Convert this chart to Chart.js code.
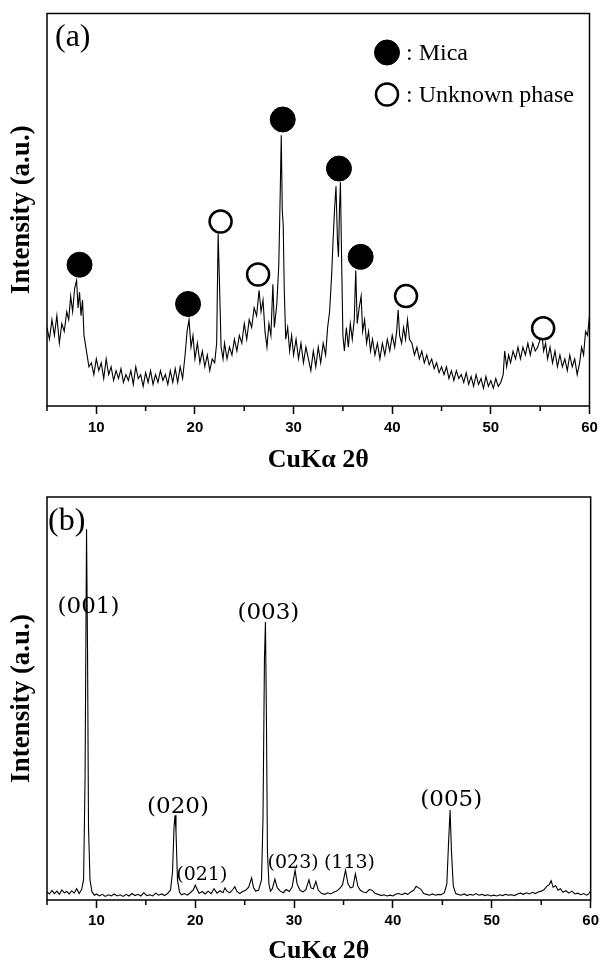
<!DOCTYPE html>
<html>
<head>
<meta charset="utf-8">
<script src="https://cdn.jsdelivr.net/npm/chart.js@4.4.0/dist/chart.umd.min.js"></script>
<style>
  html, body { margin: 0; padding: 0; background: #fff; }
  #wrapA { position: absolute; left: 0; top: 0; width: 603px; height: 480px; }
  #wrapB { position: absolute; left: 0; top: 480px; width: 603px; height: 487px; }
</style>
</head>
<body>
<div id="wrapA"><canvas id="xrdA" width="603" height="480"></canvas></div>
<div id="wrapB"><canvas id="xrdB" width="603" height="487"></canvas></div>
<script>
// (a) pattern
const twoThetaA = [
  5.0, 5.25, 5.5, 5.75, 6.0, 6.25, 6.5, 6.75, 7.0, 7.2, 7.4, 7.6, 7.8, 8.0, 8.15, 8.3, 8.45, 8.6, 8.75, 9.0,
  9.25, 9.5, 9.75, 10.0, 10.25, 10.5, 10.75, 11.0, 11.25, 11.5, 11.75, 12.0, 12.25, 12.5, 12.75, 13.0, 13.25, 13.5, 13.75, 14.0,
  14.25, 14.5, 14.75, 15.0, 15.25, 15.5, 15.75, 16.0, 16.25, 16.5, 16.75, 17.0, 17.25, 17.5, 17.75, 18.0, 18.25, 18.5, 18.75, 19.0,
  19.2, 19.4, 19.6, 19.8, 20.0, 20.25, 20.5, 20.75, 21.0, 21.25, 21.5, 21.75, 22.0, 22.2, 22.35, 22.5, 22.65, 22.85, 23.0, 23.25,
  23.5, 23.75, 24.0, 24.25, 24.5, 24.75, 25.0, 25.25, 25.5, 25.75, 26.0, 26.25, 26.5, 26.7, 26.9, 27.1, 27.3, 27.5, 27.7, 27.9,
  28.05, 28.3, 28.5, 28.65, 28.75, 28.85, 28.95, 29.05, 29.2, 29.4, 29.6, 29.8, 30.0, 30.25, 30.5, 30.75, 31.0, 31.25, 31.5, 31.75,
  32.0, 32.25, 32.5, 32.75, 33.0, 33.25, 33.45, 33.65, 33.85, 34.0, 34.15, 34.3, 34.45, 34.55, 34.65, 34.75, 34.85, 35.0, 35.15, 35.35,
  35.55, 35.75, 35.95, 36.15, 36.3, 36.45, 36.65, 36.85, 37.0, 37.2, 37.4, 37.6, 37.8, 38.0, 38.25, 38.5, 38.75, 39.0, 39.25, 39.5,
  39.75, 40.0, 40.25, 40.45, 40.6, 40.75, 40.95, 41.15, 41.35, 41.55, 41.75, 42.0, 42.25, 42.5, 42.75, 43.0, 43.25, 43.5, 43.75, 44.0,
  44.25, 44.5, 44.75, 45.0, 45.25, 45.5, 45.75, 46.0, 46.25, 46.5, 46.75, 47.0, 47.25, 47.5, 47.75, 48.0, 48.25, 48.5, 48.75, 49.0,
  49.25, 49.5, 49.75, 50.0, 50.25, 50.5, 50.75, 51.0, 51.25, 51.4, 51.6, 51.8, 52.0, 52.25, 52.5, 52.75, 53.0, 53.25, 53.5, 53.75,
  54.0, 54.25, 54.5, 54.75, 55.0, 55.2, 55.35, 55.55, 55.75, 56.0, 56.25, 56.5, 56.75, 57.0, 57.25, 57.5, 57.75, 58.0, 58.25, 58.5,
  58.75, 59.0, 59.2, 59.4, 59.6, 59.8, 60.0
];
const intensityA = [
  20, 17, 22, 18, 23, 16, 21, 19, 24, 22, 28, 24, 30, 32, 25, 29, 23, 27, 18, 14,
  10, 11, 8, 12, 9, 11, 7, 12, 8, 10, 6.5, 9, 7, 9.5, 6, 8, 6.5, 9, 5.5, 10,
  7, 8, 5, 8.5, 6, 9, 5.5, 8, 6, 9, 6.5, 8, 5.5, 9, 6, 9.5, 6, 10, 7, 13,
  19, 22, 15, 18, 12, 16, 11, 14, 10, 13, 9, 12, 11, 16, 44, 30, 15, 12, 16, 12,
  15, 13, 17, 14, 18, 16, 21, 17, 22, 20, 25, 23, 29.5, 24, 27, 19, 15, 21, 18, 31,
  20, 26, 36, 55, 69, 50, 46, 30, 17, 20, 14, 18, 13, 17, 12, 16, 11, 15, 12, 9,
  14, 10, 15, 11, 16, 13, 20, 24, 33, 42, 50, 56, 42, 38, 50, 57, 40, 18, 14, 20,
  15, 21, 17, 22, 34.5, 21, 25, 28, 19, 22, 16, 19, 14, 17, 13, 16, 12, 16, 13, 17,
  14, 18, 15, 19, 24.5, 18, 16, 20, 17, 22, 17, 16, 13, 15, 12, 14, 11, 13, 10.5, 12,
  9.5, 11, 8.5, 10, 8, 10, 7, 9, 6.5, 9, 7, 8, 6, 8.5, 5.5, 7.5, 5, 8, 5.5, 7,
  4.5, 7.5, 5, 6.5, 4.5, 7, 5, 6, 8, 14, 10, 13, 11, 14, 12, 15, 12, 15, 13, 16,
  13, 16, 14, 15, 17, 17.5, 14, 16, 12, 15, 11, 14, 10, 13, 10, 12, 9, 13, 10, 12,
  8, 11, 15, 13, 19, 18, 23
];
const micaTheta = [8.3, 19.3, 28.9, 34.6, 36.8];
const micaIntensity = [36, 26, 73, 60.5, 38];
const unknownTheta = [22.6, 26.4, 41.4, 55.3];
const unknownIntensity = [47, 33.5, 28, 19.8];

// (b) pattern
const twoThetaB = [
  5.0, 5.25, 5.5, 5.75, 6.0, 6.25, 6.5, 6.75, 7.0, 7.25, 7.5, 7.75, 8.0, 8.25, 8.5, 8.7, 8.85, 9.0, 9.1, 9.2,
  9.35, 9.55, 9.8, 10.0, 10.3, 10.6, 10.9, 11.2, 11.5, 11.8, 12.1, 12.4, 12.7, 13.0, 13.3, 13.6, 13.9, 14.2, 14.5, 14.8,
  15.1, 15.4, 15.7, 16.0, 16.3, 16.6, 16.9, 17.2, 17.5, 17.7, 17.85, 17.95, 18.05, 18.2, 18.4, 18.6, 18.9, 19.2, 19.5, 19.8,
  20.0, 20.2, 20.4, 20.7, 21.0, 21.3, 21.6, 21.9, 22.2, 22.5, 22.8, 23.0, 23.2, 23.5, 23.8, 24.0, 24.2, 24.5, 24.8, 25.1,
  25.4, 25.7, 25.9, 26.1, 26.4, 26.7, 26.85, 27.0, 27.1, 27.2, 27.3, 27.45, 27.6, 27.8, 28.05, 28.3, 28.6, 28.9, 29.2, 29.5,
  29.8, 30.1, 30.3, 30.6, 30.9, 31.2, 31.5, 31.7, 31.95, 32.2, 32.45, 32.8, 33.1, 33.4, 33.7, 34.0, 34.3, 34.6, 34.9, 35.2,
  35.45, 35.7, 35.95, 36.2, 36.45, 36.7, 37.0, 37.3, 37.6, 37.9, 38.2, 38.5, 38.8, 39.1, 39.4, 39.7, 40.0, 40.3, 40.6, 40.9,
  41.2, 41.5, 41.8, 42.1, 42.35, 42.6, 42.85, 43.1, 43.4, 43.7, 44.0, 44.3, 44.6, 44.9, 45.2, 45.45, 45.62, 45.78, 45.92, 46.1,
  46.35, 46.6, 46.9, 47.2, 47.5, 47.8, 48.1, 48.4, 48.7, 49.0, 49.3, 49.6, 49.9, 50.2, 50.5, 50.8, 51.1, 51.4, 51.7, 52.0,
  52.3, 52.6, 52.9, 53.2, 53.5, 53.8, 54.1, 54.4, 54.7, 55.0, 55.3, 55.55, 55.8, 56.0, 56.2, 56.45, 56.7, 56.95, 57.2, 57.5,
  57.8, 58.1, 58.4, 58.7, 59.0, 59.3, 59.6, 59.8, 60.0
];
const intensityB = [
  2, 1.5, 2.4, 1.6, 2.2, 1.4, 2.5, 1.8, 2.1, 1.5, 2.3, 1.7, 2.8, 1.6, 2.6, 5, 30, 92, 62, 18,
  5, 2, 1.2, 1.5, 1, 1.4, 0.9, 1.3, 1, 1.5, 1, 1.3, 0.9, 1.4, 1, 1.6, 1.1, 1.4, 1, 1.8,
  1.1, 1.3, 1, 1.7, 1.2, 1.5, 1.1, 1.6, 2.5, 7, 18, 21, 17, 5, 2, 1.3, 1.6, 1.2, 1.8, 2.5,
  3.7, 2.6, 1.6, 2.1, 1.5, 2.2, 1.6, 2.8, 1.7, 2.3, 1.8, 3, 2.2, 1.8, 2.6, 3.3, 2.2, 1.6, 2.1, 2.4,
  3.2, 5.5, 3, 2.2, 2.4, 5, 20, 60, 69, 45, 12, 4, 2.2, 2.8, 5.2, 3, 2.2, 1.8, 2.6, 2.1,
  3.2, 7.4, 4, 2.4, 2, 2.6, 5, 3, 2.8, 4.6, 2.4, 1.6, 1.4, 1.8, 1.5, 1.9, 2.2, 2.8, 3.8, 7.4,
  4, 3, 3.2, 6.5, 3.4, 2.4, 2, 1.8, 2.6, 2.4, 1.6, 1.4, 1.1, 1.3, 1, 1.2, 1, 1.5, 1.6, 1.3,
  1.7, 1.4, 2, 2.4, 3.4, 3, 2.6, 1.6, 1.4, 1.2, 1.5, 1.2, 1.4, 1.3, 1.8, 4, 14, 22.3, 12, 3.5,
  1.6, 1.4, 1.2, 1.5, 1.1, 1.4, 1.2, 1.6, 1.2, 1.4, 1.1, 1.3, 1, 1.2, 1, 1.3, 1.1, 1.4, 1.2, 1.3,
  1.1, 1.5, 1.7, 1.4, 1.8, 1.5, 1.9, 1.6, 2, 2.2, 2.6, 3.4, 3.8, 4.8, 3.2, 3.6, 2.4, 2.8, 1.9, 2.3,
  1.7, 2.2, 1.5, 1.7, 1.3, 1.6, 1.2, 1.5, 2.3
];
const hklLabels = ['(001)', '(020)', '(021)', '(003)', '(023)', '(113)', '(005)'];
const hklTheta = [9.2, 18.25, 20.66, 27.4, 29.9, 35.6, 45.9];
const hklIntensity = [72.7, 23.1, 6.2, 71.2, 9.2, 9.2, 24.8];
const minorHkl = ['(021)', '(023)', '(113)'];

const serif = "'Liberation Serif', 'Times New Roman', serif";

function pts(xs, ys) {
    return xs.map((x, i) => ({ x: x, y: ys[i] }));
}

// box round the plot area
const framePlugin = {
    id: 'frame',
    afterDatasetsDraw(chart) {
        const a = chart.chartArea;
        const ctx = chart.ctx;
        ctx.save();
        ctx.strokeStyle = '#000';
        ctx.lineWidth = 1.5;
        ctx.strokeRect(a.left, a.top, a.right - a.left, a.bottom - a.top);
        ctx.restore();
    }
};

// short ticks at 5, 15, 25 ...
const minorTickPlugin = {
    id: 'minorTicks',
    afterDraw(chart) {
        const xs = chart.scales.x;
        const ctx = chart.ctx;
        ctx.save();
        ctx.strokeStyle = '#000';
        ctx.lineWidth = 1.5;
        xs.ticks.forEach(t => {
            if (t.value % 10 !== 0) {
                const px = xs.getPixelForValue(t.value);
                ctx.beginPath();
                ctx.moveTo(px, xs.top);
                ctx.lineTo(px, xs.top + 5);
                ctx.stroke();
            }
        });
        ctx.restore();
    }
};

const panelTagPlugin = {
    id: 'panelTag',
    afterDraw(chart, args, opts) {
        if (!opts.text) return;
        const a = chart.chartArea;
        const ctx = chart.ctx;
        ctx.save();
        ctx.fillStyle = '#000';
        ctx.font = '32px ' + serif;
        ctx.textAlign = 'left';
        ctx.textBaseline = 'middle';
        ctx.fillText(opts.text, a.left + opts.dx, a.top + opts.dy);
        ctx.restore();
    }
};

// key for the two marker sets, drawn inside the plot
const phaseKeyPlugin = {
    id: 'phaseKey',
    afterDraw(chart, args, opts) {
        if (!opts.rows) return;
        const a = chart.chartArea;
        const ctx = chart.ctx;
        ctx.save();
        opts.rows.forEach((dy, i) => {
            const ds = chart.data.datasets[i];
            const cx = a.left + opts.dx;
            const cy = a.top + dy;
            ctx.beginPath();
            ctx.arc(cx, cy, ds.pointRadius, 0, Math.PI * 2);
            ctx.fillStyle = ds.backgroundColor;
            ctx.fill();
            ctx.lineWidth = ds.borderWidth;
            ctx.strokeStyle = ds.borderColor;
            ctx.stroke();
            ctx.fillStyle = '#000';
            ctx.font = '24px ' + serif;
            ctx.textAlign = 'left';
            ctx.textBaseline = 'middle';
            ctx.fillText(ds.label, cx + 19, cy + 1);
        });
        ctx.restore();
    }
};

const hklPlugin = {
    id: 'hkl',
    afterDraw(chart, args, opts) {
        if (!opts.show) return;
        const xs = chart.scales.x, ys = chart.scales.y;
        const ctx = chart.ctx;
        ctx.save();
        ctx.fillStyle = '#000';
        ctx.textAlign = 'center';
        ctx.textBaseline = 'middle';
        hklLabels.forEach((t, i) => {
            ctx.font = (minorHkl.includes(t) ? '19px' : '23px') + " 'DejaVu Serif', serif";
            ctx.fillText(t, xs.getPixelForValue(hklTheta[i]), ys.getPixelForValue(hklIntensity[i]));
        });
        ctx.restore();
    }
};

function xrdOptions(padTop, xHeight, tickPad, titlePad, extra) {
    return {
        responsive: false,
        animation: false,
        layout: { padding: { top: padTop, right: 9, left: 0, bottom: 0 } },
        plugins: Object.assign({ legend: { display: false }, tooltip: { enabled: false } }, extra),
        scales: {
            x: {
                type: 'linear',
                min: 5,
                max: 60,
                afterFit: s => { s.height = xHeight; },
                border: { display: false },
                grid: {
                    drawOnChartArea: false,
                    drawTicks: true,
                    tickLength: 8,
                    tickWidth: 1.5,
                    tickColor: c => (c.tick && c.tick.value % 10 === 0) ? '#000' : 'rgba(0,0,0,0)'
                },
                ticks: {
                    stepSize: 5,
                    autoSkip: false,
                    maxRotation: 0,
                    padding: tickPad,
                    color: '#000',
                    font: { family: "'Liberation Sans', Arial, sans-serif", size: 15, weight: 'bold' },
                    callback: v => (v % 10 === 0 ? v : '')
                },
                title: {
                    display: true,
                    text: 'CuKα 2θ',
                    color: '#000',
                    padding: { top: 0, bottom: titlePad },
                    font: { family: serif, size: 26, weight: 'bold' }
                }
            },
            y: {
                min: 0,
                max: 100,
                afterFit: s => { s.width = 47; },
                border: { display: false },
                grid: { display: false },
                ticks: { display: false },
                title: {
                    display: true,
                    text: 'Intensity (a.u.)',
                    color: '#000',
                    padding: { top: 6, bottom: 0 },
                    font: { family: serif, size: 27, weight: 'bold' }
                }
            }
        }
    };
}

new Chart(document.getElementById('xrdA').getContext('2d'), {
    type: 'scatter',
    data: {
        datasets: [
            {
                label: ': Mica',
                data: pts(micaTheta, micaIntensity),
                pointRadius: 12.5,
                backgroundColor: '#000',
                borderColor: '#000',
                borderWidth: 1,
                order: 0
            },
            {
                label: ': Unknown phase',
                data: pts(unknownTheta, unknownIntensity),
                pointRadius: 11,
                backgroundColor: '#fff',
                borderColor: '#000',
                borderWidth: 2.5,
                order: 0
            },
            {
                label: 'pattern a',
                data: pts(twoThetaA, intensityA),
                showLine: true,
                pointRadius: 0,
                borderColor: '#000',
                borderWidth: 1.1,
                order: 1
            }
        ]
    },
    options: xrdOptions(6, 74, 5, 4, {
        panelTag: { text: '(a)', dx: 8, dy: 24 },
        phaseKey: { dx: 340, rows: [39, 81] },
        hkl: { show: false }
    }),
    plugins: [framePlugin, minorTickPlugin, panelTagPlugin, phaseKeyPlugin, hklPlugin]
});

new Chart(document.getElementById('xrdB').getContext('2d'), {
    type: 'scatter',
    data: {
        datasets: [
            {
                label: 'pattern b',
                data: pts(twoThetaB, intensityB),
                showLine: true,
                pointRadius: 0,
                borderColor: '#000',
                borderWidth: 1.1
            }
        ]
    },
    options: xrdOptions(17, 67, 4, 0, {
        panelTag: { text: '(b)', dx: 1, dy: 25 },
        phaseKey: {},
        hkl: { show: true }
    }),
    plugins: [framePlugin, minorTickPlugin, panelTagPlugin, phaseKeyPlugin, hklPlugin]
});
</script>
</body>
</html>
